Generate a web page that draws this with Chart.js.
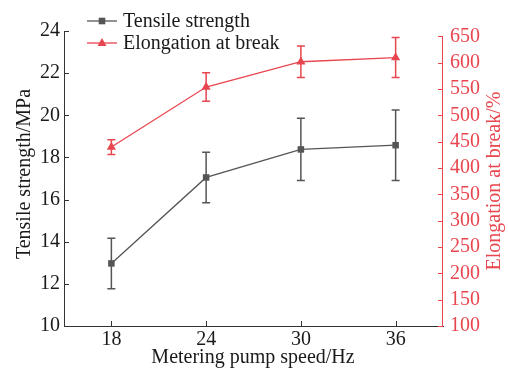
<!DOCTYPE html>
<html>
<head>
<meta charset="utf-8">
<script src="https://cdn.jsdelivr.net/npm/chart.js@4"></script>
<style>
html, body { margin: 0; background: #fff; }
#wrap { width: 508px; height: 372px; }
</style>
</head>
<body>
<div id="wrap"><canvas id="grafico"></canvas></div>
<script>
const speeds = [18, 24, 30, 36];
const tensile = [12.97, 17.05, 18.38, 18.58];
const tensileErr = [1.2, 1.2, 1.48, 1.67];
const elongation = [440, 554, 602, 610];
const elongationErr = [14, 27, 30, 38];
const leftTicks = [10, 12, 14, 16, 18, 20, 22, 24];
const rightTicks = [100, 150, 200, 250, 300, 350, 400, 450, 500, 550, 600, 650];

const cinza = '#555555';
const vermelho = '#e8464f';
const fonte = 'Liberation Serif';

// barras de erro, eixos com tiques internos, legenda e títulos
const extras = {
    id: 'extras',
    beforeDatasetsDraw(chart) {
        const ctx = chart.ctx;
        const x = chart.scales.x;
        const erros = [tensileErr, elongationErr];
        chart.data.datasets.forEach(function (ds, i) {
            const y = chart.scales[ds.yAxisID];
            ctx.save();
            ctx.strokeStyle = ds.borderColor;
            ctx.lineWidth = 1.5;
            ds.data.forEach(function (p, j) {
                const px = x.getPixelForValue(p.x);
                const top = y.getPixelForValue(p.y + erros[i][j]);
                const bot = y.getPixelForValue(p.y - erros[i][j]);
                ctx.beginPath();
                ctx.moveTo(px, top); ctx.lineTo(px, bot);
                ctx.moveTo(px - 4, top); ctx.lineTo(px + 4, top);
                ctx.moveTo(px - 4, bot); ctx.lineTo(px + 4, bot);
                ctx.stroke();
            });
            ctx.restore();
        });
    },
    afterDraw(chart) {
        const ctx = chart.ctx;
        const x = chart.scales.x, y = chart.scales.y, y1 = chart.scales.y1;
        const area = chart.chartArea;
        ctx.save();
        ctx.lineWidth = 1;
        // eixo esquerdo e tiques do eixo x
        ctx.strokeStyle = '#333';
        ctx.beginPath();
        ctx.moveTo(area.left + 0.5, y.getPixelForValue(24));
        ctx.lineTo(area.left + 0.5, area.bottom);
        leftTicks.forEach(function (v) {
            const py = Math.round(y.getPixelForValue(v)) + 0.5;
            ctx.moveTo(area.left, py); ctx.lineTo(area.left + 5, py);
        });
        speeds.forEach(function (v) {
            const px = Math.round(x.getPixelForValue(v)) + 0.5;
            ctx.moveTo(px, area.bottom); ctx.lineTo(px, area.bottom - 5);
        });
        ctx.stroke();
        // eixo direito
        ctx.strokeStyle = vermelho;
        ctx.beginPath();
        ctx.moveTo(area.right - 0.5, Math.round(y1.getPixelForValue(650)) + 0.5);
        ctx.lineTo(area.right - 0.5, area.bottom);
        rightTicks.forEach(function (v) {
            const py = Math.round(y1.getPixelForValue(v)) + 0.5;
            ctx.moveTo(area.right, py); ctx.lineTo(area.right - 5, py);
        });
        ctx.stroke();

        // legenda
        ctx.font = '20px "' + fonte + '"';
        ctx.textBaseline = 'middle';
        ctx.textAlign = 'left';
        const linhas = [
            { texto: 'Tensile strength', cor: cinza, y: 21, forma: 'rect' },
            { texto: 'Elongation at break', cor: vermelho, y: 43, forma: 'tri' }
        ];
        linhas.forEach(function (l) {
            ctx.strokeStyle = l.cor;
            ctx.fillStyle = l.cor;
            ctx.lineWidth = 1.3;
            ctx.beginPath();
            ctx.moveTo(87, l.y); ctx.lineTo(117, l.y);
            ctx.stroke();
            ctx.beginPath();
            if (l.forma === 'rect') {
                ctx.rect(98.7, l.y - 3.3, 6.6, 6.6);
            } else {
                ctx.moveTo(102, l.y - 5);
                ctx.lineTo(106.5, l.y + 3);
                ctx.lineTo(97.5, l.y + 3);
                ctx.closePath();
            }
            ctx.fill();
            ctx.fillStyle = '#1a1a1a';
            ctx.fillText(l.texto, 123, l.y + 1);
        });

        // títulos
        ctx.textAlign = 'center';
        ctx.fillStyle = '#1a1a1a';
        ctx.fillText('Metering pump speed/Hz', 253, 358);
        ctx.save();
        ctx.translate(25, 174);
        ctx.rotate(-Math.PI / 2);
        ctx.fillText('Tensile strength/MPa', 0, 0);
        ctx.restore();
        ctx.save();
        ctx.translate(495, 181);
        ctx.rotate(-Math.PI / 2);
        ctx.fillStyle = vermelho;
        ctx.fillText('Elongation at break/%', 0, 0);
        ctx.restore();
        ctx.restore();
    }
};

new Chart("grafico", {
    type: "line",
    data: {
        datasets: [{
            label: "Tensile strength",
            data: speeds.map(function (s, i) { return { x: s, y: tensile[i] }; }),
            yAxisID: 'y',
            borderColor: cinza,
            backgroundColor: cinza,
            borderWidth: 1.3,
            pointStyle: 'rect',
            pointRadius: 4.6,
            pointBorderWidth: 0,
            tension: 0
        }, {
            label: "Elongation at break",
            data: speeds.map(function (s, i) { return { x: s, y: elongation[i] }; }),
            yAxisID: 'y1',
            borderColor: vermelho,
            backgroundColor: vermelho,
            borderWidth: 1.3,
            pointStyle: 'triangle',
            pointRadius: 5.3,
            pointBorderWidth: 0,
            tension: 0
        }]
    },
    options: {
        responsive: true,
        maintainAspectRatio: false,
        animation: false,
        layout: { padding: { top: 31, left: 0, right: 0, bottom: 0 } },
        plugins: {
            legend: { display: false },
            tooltip: { enabled: false }
        },
        scales: {
            x: {
                type: 'linear',
                min: 15,
                max: 39,
                afterBuildTicks: function (s) { s.ticks = speeds.map(function (v) { return { value: v }; }); },
                afterFit: function (s) { s.height = 46; },
                grid: { display: false, drawTicks: false },
                border: { display: true, color: '#333', width: 1 },
                ticks: { color: '#1a1a1a', font: { family: fonte, size: 20 }, padding: 2, maxRotation: 0, autoSkip: false }
            },
            y: {
                position: 'left',
                min: 10,
                max: 24,
                afterBuildTicks: function (s) { s.ticks = leftTicks.map(function (v) { return { value: v }; }); },
                afterFit: function (s) { s.width = 64; },
                grid: { display: false, drawTicks: false },
                border: { display: false },
                ticks: { color: '#1a1a1a', font: { family: fonte, size: 20 }, padding: 4, autoSkip: false }
            },
            y1: {
                position: 'right',
                min: 100,
                max: 660.4,
                afterBuildTicks: function (s) { s.ticks = rightTicks.map(function (v) { return { value: v }; }); },
                afterFit: function (s) { s.width = 65; },
                grid: { display: false, drawTicks: false },
                border: { display: false },
                ticks: { color: vermelho, font: { family: fonte, size: 20 }, padding: 7, autoSkip: false }
            }
        }
    },
    plugins: [extras]
});
</script>
</body>
</html>
